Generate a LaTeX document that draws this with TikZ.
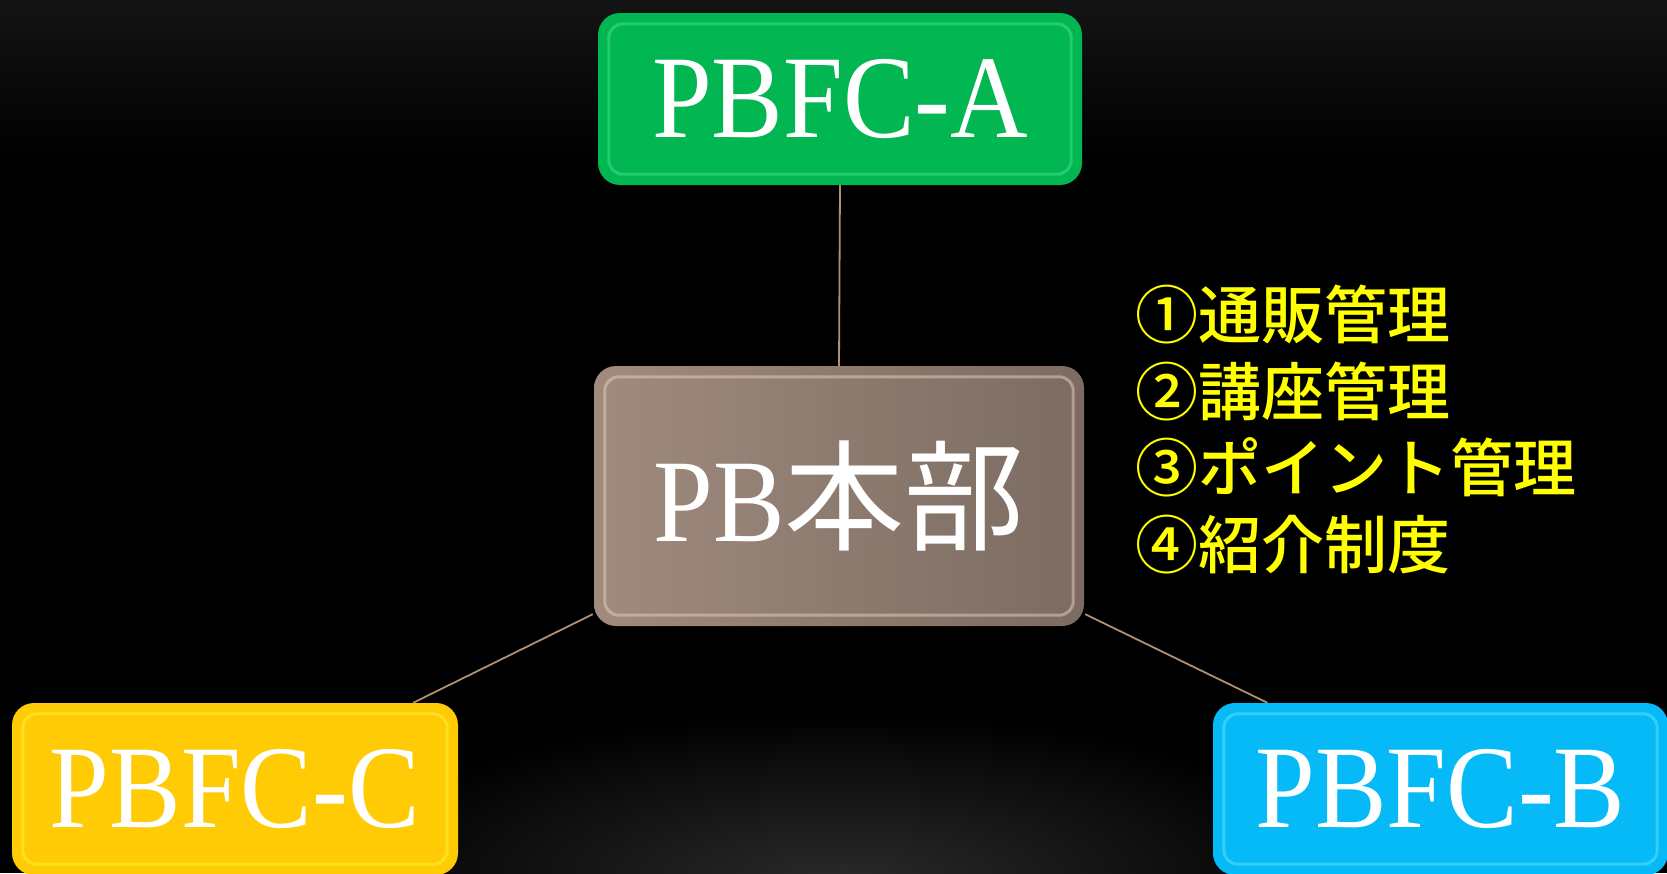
\documentclass[tikz,border=0pt]{standalone}
\usepackage{fontspec}
\setmainfont{Liberation Serif}
\newfontfamily\boxfont[FakeStretch=0.91]{Liberation Serif}
\newfontfamily\cjk{Noto Sans CJK JP}
\newfontfamily\cjkm{Noto Sans CJK JP Medium}
\usetikzlibrary{calc}
\definecolor{bgtop}{HTML}{141414}
\definecolor{glow}{HTML}{2A2A2A}
\definecolor{linkcol}{HTML}{B09070}
\definecolor{greenbox}{HTML}{02B652}
\definecolor{greenhl}{HTML}{45E294}
\definecolor{yellowbox}{HTML}{FFCB05}
\definecolor{yellowhl}{HTML}{FFF53A}
\definecolor{bluebox}{HTML}{05BAF7}
\definecolor{bluehl}{HTML}{5BE6FF}
\definecolor{brownL}{HTML}{A08B7E}
\definecolor{brownD}{HTML}{7B6B61}
\definecolor{brownhl}{HTML}{EAD0BE}
\definecolor{listyellow}{HTML}{FFFF00}
\tikzset{
  boxnode/.style={rounded corners=22pt, inner sep=0pt, text=white},
  smallbox/.style={boxnode, minimum height=172pt, font=\boxfont\fontsize{118}{118}\selectfont},
  hlring/.style={rounded corners=14pt, line width=3pt, opacity=0.5},
  link/.style={draw=linkcol, line width=1.8pt},
}
\begin{document}
\begin{tikzpicture}[x=1pt,y=1pt]
\useasboundingbox (0,-873) rectangle (1667,0);
\clip (0,-873) rectangle (1667,0);
\fill[black] (0,-873) rectangle (1667,0);
\shade[top color=bgtop, bottom color=black] (0,-160) rectangle (1667,0);
\shade[inner color=glow, outer color=black] (840,-880) ellipse (520pt and 170pt);

% nodes
\node[smallbox, fill=greenbox, minimum width=484pt] (a) at (840,-99) {PBFC-A};
\node[boxnode, minimum width=490pt, minimum height=260pt, left color=brownL, right color=brownD,
      font=\fontsize{118}{118}\selectfont] (hq) at (839,-496) {{\boxfont PB}{\cjk\fontsize{120}{120}\selectfont 本部}};
\node[smallbox, fill=yellowbox, minimum width=446pt] (c) at (235,-789) {PBFC-C};
\node[smallbox, fill=bluebox, minimum width=455pt] (b) at (1440.5,-789) {PBFC-B};

% bevel highlights
\draw[hlring, greenhl] ($(a.south west)+(11,11)$) rectangle ($(a.north east)-(11,11)$);
\draw[hlring, brownhl] ($(hq.south west)+(11,11)$) rectangle ($(hq.north east)-(11,11)$);
\draw[hlring, yellowhl] ($(c.south west)+(11,11)$) rectangle ($(c.north east)-(11,11)$);
\draw[hlring, bluehl] ($(b.south west)+(11,11)$) rectangle ($(b.north east)-(11,11)$);

% list
\node[anchor=north west, inner sep=0pt, align=left, text=listyellow,
      font=\cjkm\fontsize{63}{76.5}\selectfont] (list) at (1135,-285)
  {①通販管理\\②講座管理\\③ポイント管理\\④紹介制度};

% connectors
\draw[link] (a.south) -- (hq.north);
\draw[link] ($(hq.south west)+(-1,12)$) -- ($(c.north west)!0.899!(c.north east)$);
\draw[link] ($(hq.south east)+(1,12)$) -- ($(b.north west)!0.12!(b.north east)$);
\end{tikzpicture}
\end{document}
